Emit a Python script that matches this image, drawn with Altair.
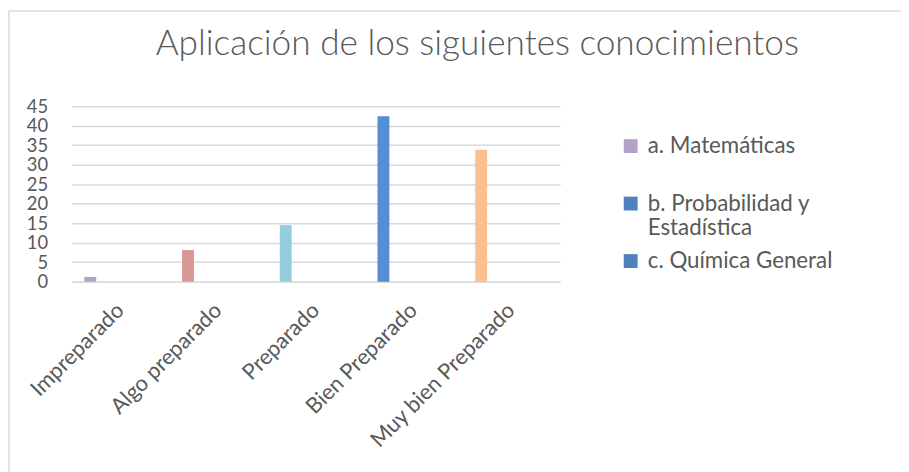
import altair as alt
import pandas as pd

categories = ["Impreparado", "Algo preparado", "Preparado", "Bien Preparado", "Muy bien Preparado"]
series = ["a. Matemáticas", "b. Probabilidad y Estadística", "c. Química General"]
values_a = [1.2, 8.1, 14.5, 42.4, 33.8]
values_b = [0, 0, 0, 0, 0]
values_c = [0, 0, 0, 0, 0]
bar_colors = ["#B3A2C7", "#D99694", "#93CDDD", "#558ED5", "#FAC090"]
series_colors = ["#B3A2C7", "#4F81BD", "#4F81BD"]

rows = []
for s, vals in zip(series, [values_a, values_b, values_c]):
    for c, v in zip(categories, vals):
        rows.append({"categoria": c, "serie": s, "valor": v})
df = pd.DataFrame(rows)

FONT = "Lato"
GRAY = "#595959"
W, H = 493, 177

base = alt.Chart(df)

bars = base.mark_bar().encode(
    x=alt.X("categoria:N", sort=categories, title=None,
            scale=alt.Scale(paddingInner=0, paddingOuter=0),
            axis=alt.Axis(labelAngle=-45, labelAlign="right", labelBaseline="middle",
                          labelFontSize=22, labelColor=GRAY, labelFont=FONT,
                          ticks=False, domain=True, domainColor="#D9D9D9", domainWidth=1.5,
                          labelPadding=25, labelLimit=400, labelOverlap=False)),
    xOffset=alt.XOffset("serie:N", sort=series, scale=alt.Scale(range=[13, 49])),
    y=alt.Y("valor:Q", title=None,
            scale=alt.Scale(domain=[0, 45], nice=False),
            axis=alt.Axis(values=list(range(0, 50, 5)), labelFontSize=18.5, labelColor=GRAY,
                          labelFont=FONT, ticks=False, domain=False, gridColor="#D9D9D9",
                          gridWidth=1.5, labelPadding=24, labelOverlap=False)),
    color=alt.Color("categoria:N", sort=categories,
                    scale=alt.Scale(domain=categories, range=bar_colors), legend=None),
)

label_expr = (
    "datum.label == 'b. Probabilidad y Estadística' ? ['b. Probabilidad y', 'Estadística'] "
    ": [datum.label, ' ']"
)

legend_layer = base.mark_square(size=0, opacity=0).encode(
    x=alt.value(0),
    y=alt.value(0),
    fill=alt.Fill("serie:N", sort=series,
                  scale=alt.Scale(domain=series, range=series_colors),
                  legend=alt.Legend(title=None, orient="none", legendX=553, legendY=29,
                                    symbolType="square", symbolSize=196, symbolOpacity=1,
                                    symbolStrokeWidth=0, labelFontSize=22.5, labelFont=FONT,
                                    labelColor=GRAY, labelLimit=400, rowPadding=10,
                                    labelOffset=6, labelBaseline="middle",
                                    labelExpr=label_expr)),
)

border = alt.Chart(pd.DataFrame({"a": [0]})).mark_rect(
    fill=None, stroke="#D9D9D9", strokeWidth=1.5
).encode(x=alt.value(-63), x2=alt.value(900), y=alt.value(-96), y2=alt.value(500))

chart = alt.layer(bars, legend_layer, border).resolve_scale(
    color="independent", fill="independent"
).properties(
    width=W, height=H,
    title=alt.Title("Aplicación de los siguientes conocimientos", fontSize=35.5,
                    font=FONT, fontWeight=300, color=GRAY, anchor="start",
                    frame="group", dx=85, dy=34, offset=-47, baseline="alphabetic"),
    autosize=alt.AutoSizeParams(type="none"),
    padding={"left": 64, "top": 97, "right": 344, "bottom": 190},
).configure_view(stroke=None)

chart.save("out.html", embed_options={"renderer": "svg", "actions": False})
